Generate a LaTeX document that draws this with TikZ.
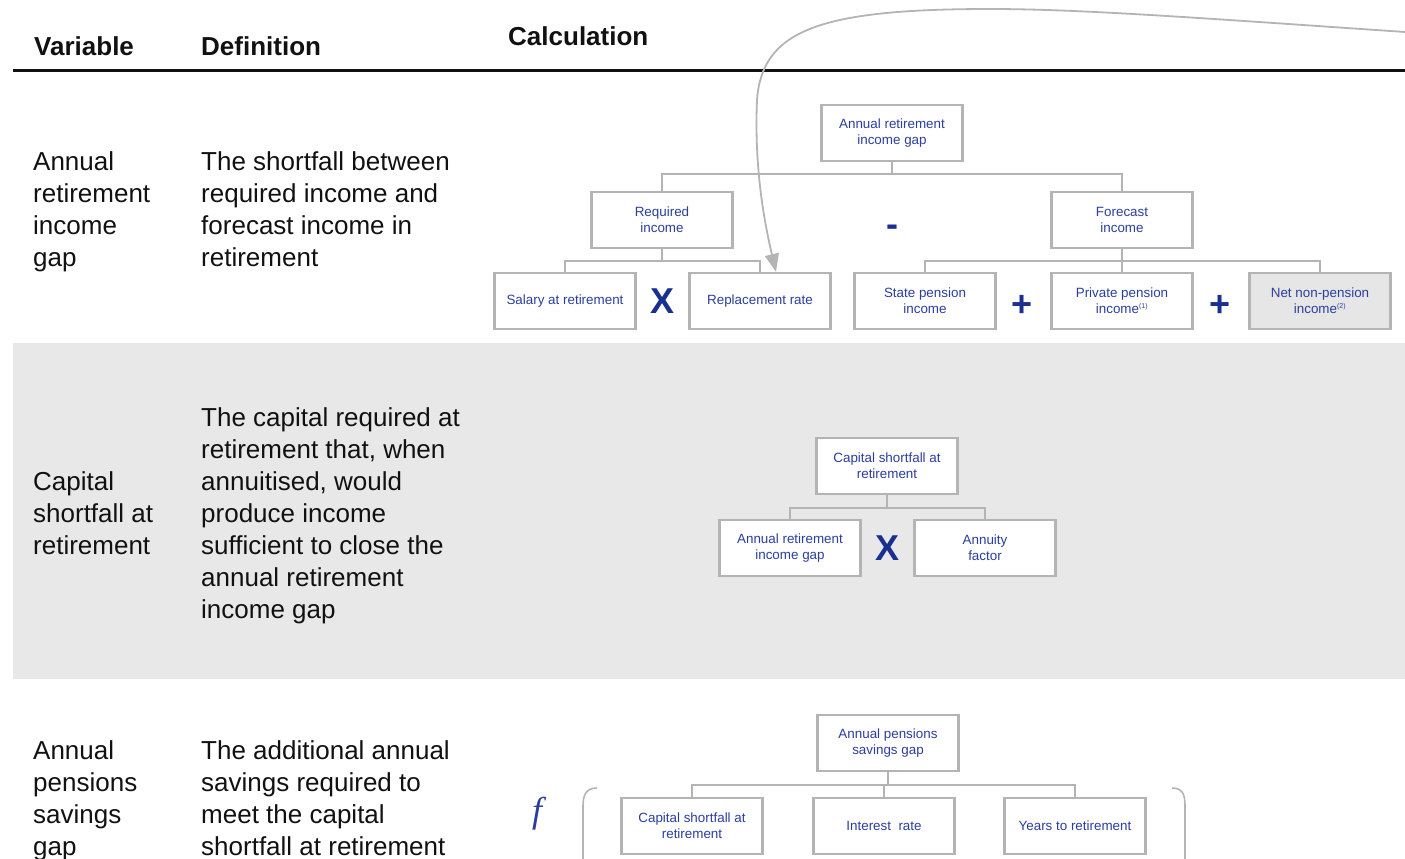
\documentclass[tikz,border=0pt]{standalone}
\usepackage{fontspec}
\setmainfont{Liberation Sans}
\newfontfamily\fnserif{Liberation Serif}
\usepackage{xcolor}
\usetikzlibrary{arrows.meta,positioning,calc}
\definecolor{gaink}{HTML}{111111}
\definecolor{gablue}{HTML}{2B3E9E}
\definecolor{ganavy}{HTML}{1A3090}
\definecolor{gagrey}{HTML}{B4B4B4}
\definecolor{gaband}{HTML}{E8E8E8}
\definecolor{gafill}{HTML}{E6E6E6}

\begin{document}
\begin{tikzpicture}[
  x=1pt,y=-1pt,
  head/.style={anchor=base west,inner sep=0pt,font=\fontsize{26}{28}\selectfont\bfseries,text=gaink},
  body/.style={anchor=north west,align=left,inner sep=0pt,font=\fontsize{26}{32}\selectfont,text=gaink},
  calcbox/.style={draw=gagrey,line width=2.2pt,fill=white,minimum width=141pt,minimum height=56pt,inner sep=2pt,align=center,font=\fontsize{13.4}{16}\selectfont,text=gablue},
  op/.style={font=\fontsize{36}{36}\selectfont\bfseries,text=ganavy,inner sep=0pt},
  link/.style={draw=gagrey,line width=1.8pt},
  paren/.style={draw=gagrey,line width=1.6pt},
  pointer/.style={draw=gagrey,line width=1.8pt,-{Triangle[length=18pt,width=14pt]}}
]
\useasboundingbox (0,0) rectangle (1405,859);
\fill[gaband] (13,343) rectangle (1405,679);
\draw[line width=3pt,gaink] (13,71) -- (1405,71);

\node[head] (hvar) at (34,56) {Variable};
\node[head] (hdef) at (201,56) {Definition};
\node[head] (hcalc) at (508,46) {Calculation};

\node[body] (var1) at (33,151) {Annual\\retirement\\income\\gap};
\node[body] (def1) at (201,151) {The shortfall between\\required income and\\forecast income in\\retirement};
\node[body] (var2) at (33,471) {Capital\\shortfall at\\retirement};
\node[body] (def2) at (201,407) {The capital required at\\retirement that, when\\annuitised, would\\produce income\\sufficient to close the\\annual retirement\\income gap};
\node[body] (var3) at (33,740) {Annual\\pensions\\savings\\gap};
\node[body] (def3) at (201,740) {The additional annual\\savings required to\\meet the capital\\shortfall at retirement};

\node[calcbox] (arig) at (892,133) {Annual retirement\\income gap};
\node[calcbox] (req) at (662,220) {Required\\income};
\node[calcbox] (fc) at (1122,220) {Forecast\\income};
\node[calcbox] (sal) at (565,301) {Salary at retirement};
\node[calcbox] (rr) at (760,301) {Replacement rate};
\node[calcbox] (sp) at (925,301) {State pension\\income};
\node[calcbox] (pp) at (1122,301) {Private pension\\income\textsuperscript{\fontsize{7}{7}\selectfont(1)}};
\node[calcbox,fill=gafill] (np) at (1320,301) {Net non-pension\\income\textsuperscript{\fontsize{7}{7}\selectfont(2)}};
\node[op] (opx1) at (662,301) {X};
\node[op] (opm) at (892,231) {-};
\node[op] (opp1) at (1022,306) {+};
\node[op] (opp2) at (1220,306) {+};

\draw[link] (arig.south) -- ++(0,12) -| (req.north);
\draw[link] (arig.south) -- ++(0,12) -| (fc.north);
\draw[link] (req.south) -- ++(0,12) -| (sal.north);
\draw[link] (req.south) -- ++(0,12) -| (rr.north);
\draw[link] (fc.south) -- ++(0,12) -| (sp.north);
\draw[link] (fc.south) -- ++(0,12) -| (pp.north);
\draw[link] (fc.south) -- ++(0,12) -| (np.north);

\node[calcbox] (csr) at (887,466) {Capital shortfall at\\retirement};
\node[calcbox] (arig2) at (790,548) {Annual retirement\\income gap};
\node[calcbox] (af) at (985,548) {Annuity\\factor};
\node[op] (opx2) at (887,548) {X};
\draw[link] (csr.south) -- ++(0,13) -| (arig2.north);
\draw[link] (csr.south) -- ++(0,13) -| (af.north);

\node[calcbox] (apsg) at (888,743) {Annual pensions\\savings gap};
\node[calcbox] (csr2) at (692,826) {Capital shortfall at\\retirement};
\node[calcbox] (ir) at (884,826) {Interest~ rate};
\node[calcbox] (yr) at (1075,826) {Years to retirement};
\node[text=gablue,font=\fontsize{36}{36}\selectfont\fnserif\itshape] (fn) at (537,814) {f};
\draw[link] (apsg.south) -- ++(0,13) -| (csr2.north);
\draw[link] (apsg.south) -- ++(0,13) -| (ir.north);
\draw[link] (apsg.south) -- ++(0,13) -| (yr.north);
\draw[paren] (597,788) .. controls (586,788) and (583,795) .. (583,806) -- (583,875);
\draw[paren] (1172,788) .. controls (1183,788) and (1185,795) .. (1185,806) -- (1185,875);

\coordinate (edge) at (1405,32);
\draw[pointer] (edge) .. controls (1200,18) and (1080,9) .. (990,9)
  .. controls (820,9) and (762,30) .. (757,100)
  .. controls (754,170) and (765,225) .. ([xshift=16pt]rr.north);
\end{tikzpicture}
\end{document}
